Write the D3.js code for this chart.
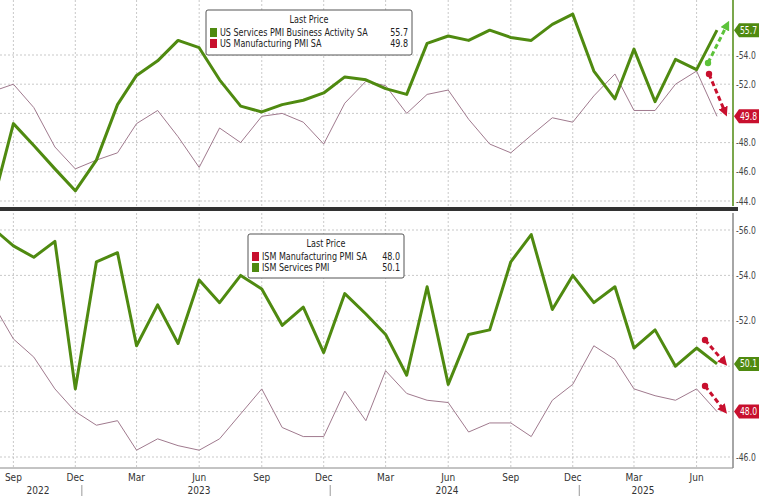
<!DOCTYPE html>
<html><head><meta charset="utf-8">
<script src="https://cdn.jsdelivr.net/npm/d3@7"></script>
<style>
body{margin:0;background:#fff}
text{font-family:"Liberation Sans Narrow","DejaVu Sans Condensed","Liberation Sans",sans-serif}
</style></head>
<body><svg id="c" width="760" height="496"></svg>
<script>
// months Aug 2022 .. Jul 2025
var months = d3.range(36).map(function(i){ return new Date(2022, 7 + i, 1) })
var spServices = [43.7,49.3,47.8,46.2,44.7,46.8,50.6,52.6,53.6,55.0,54.5,52.3,50.5,50.1,50.6,50.9,51.4,52.5,52.3,51.7,51.3,54.8,55.3,55.0,55.7,55.2,55.0,56.1,56.8,52.9,51.0,54.4,50.8,53.7,53.0,55.7]
var spManuf = [51.5,52.0,50.4,47.7,46.2,46.8,47.3,49.3,50.2,48.4,46.3,49.0,48.0,49.8,50.0,49.4,47.9,50.7,52.2,51.9,50.0,51.3,51.6,49.6,47.9,47.3,48.5,49.7,49.4,51.2,52.7,50.2,50.2,52.0,52.9,49.8]
var ismServices = [56.1,55.3,54.8,55.5,49.0,54.6,55.0,50.9,52.7,51.0,53.8,52.8,54.0,53.4,51.8,52.6,50.6,53.2,52.3,51.4,49.6,53.5,49.2,51.4,51.6,54.6,55.8,52.5,54.0,52.8,53.5,50.8,51.6,50.0,50.8,50.1]
var ismManuf = [52.8,51.2,50.4,49.0,48.0,47.4,47.6,46.3,46.8,46.5,46.3,46.8,47.9,49.0,47.3,46.9,46.9,48.9,47.6,49.8,48.8,48.5,48.4,47.1,47.5,47.5,46.9,48.5,49.2,50.9,50.3,49.0,48.7,48.5,49.0,48.0]
var topTicks = [44,46,48,50,52,54]
var botTicks = [46,48,50,52,54,56]

var GREEN = '#4f8a10', PURPLE = '#a07a8e', RED = '#c8102e'
var svg = d3.select('#c')
var x = d3.scaleTime().domain([months[0], months[35]]).range([-7.7, 717])
var xR = 733

var panels = [
  {y0: 0, y1: 206, y: d3.scaleLinear().domain([54, 44]).range([55, 201]), ticks: topTicks,
   series: [{v: spManuf, c: PURPLE, w: 1}, {v: spServices, c: GREEN, w: 3}],
   badges: [{v: 55.7, c: GREEN, t: '55.7'}, {v: 49.8, c: RED, t: '49.8'}], axisColor: GREEN,
   legend: {x: 206, y: 10, w: 206, h: 45, items: [['US Services PMI Business Activity SA', '55.7', GREEN], ['US Manufacturing PMI SA', '49.8', RED]]},
   arrows: [[708, 63, 727, 25, '#5cc23a'], [709, 74, 725, 112, RED]]},
  {y0: 213, y1: 468, y: d3.scaleLinear().domain([56, 46]).range([230, 457]), ticks: botTicks,
   series: [{v: ismManuf, c: PURPLE, w: 1}, {v: ismServices, c: GREEN, w: 3}],
   badges: [{v: 50.1, c: GREEN, t: '50.1'}, {v: 48.0, c: RED, t: '48.0'}], axisColor: '#888',
   legend: {x: 248, y: 234, w: 156, h: 44, items: [['ISM Manufacturing PMI SA', '48.0', RED], ['ISM Services PMI', '50.1', GREEN]]},
   arrows: [[705, 340, 724, 362, RED], [705, 386, 724, 410, RED]]}
]

var defs = svg.append('defs')
;[['ag', '#5cc23a'], ['ar', RED]].forEach(function(m){
  defs.append('marker').attr('id', m[0]).attr('viewBox', '0 0 10 10').attr('refX', 5).attr('refY', 5)
    .attr('markerWidth', 3.2).attr('markerHeight', 3.2).attr('orient', 'auto')
    .append('path').attr('d', 'M0,0L10,5L0,10z').attr('fill', m[1])
})

var quarters = months.filter(function(d){ return d.getMonth() % 3 == 2 })

panels.forEach(function(p){
  var g = svg.append('g')
  g.selectAll('.vg').data(quarters).enter().append('line')
    .attr('x1', function(d){ return x(d) }).attr('x2', function(d){ return x(d) })
    .attr('y1', p.y0).attr('y2', p.y1).attr('stroke', '#bbb').attr('stroke-dasharray', '2,2').attr('stroke-width', 0.8)
  g.selectAll('.hg').data(p.ticks).enter().append('line')
    .attr('x1', 0).attr('x2', xR).attr('y1', p.y).attr('y2', p.y)
    .attr('stroke', '#bbb').attr('stroke-dasharray', '2,2').attr('stroke-width', 0.8)
  g.append('line').attr('x1', xR).attr('x2', xR).attr('y1', p.y0).attr('y2', p.y1).attr('stroke', p.axisColor).attr('stroke-width', 1.5)
  var shown = p.ticks.filter(function(t){
    return p.badges.every(function(b){ return Math.abs(p.y(t) - p.y(b.v)) > 12 })
  })
  g.selectAll('.tk').data(shown).enter().append('text')
    .attr('transform', function(d){ return 'translate(' + (xR + 3) + ',' + (p.y(d) + 3.5) + ')scale(0.85,1)' })
    .attr('font-size', 10).attr('fill', '#444')
    .text(function(d){ return '-' + d.toFixed(1) })
  p.series.forEach(function(s){
    g.append('path').datum(s.v)
      .attr('d', d3.line().x(function(d, i){ return x(months[i]) }).y(function(d){ return p.y(d) }))
      .attr('fill', 'none').attr('stroke', s.c).attr('stroke-width', s.w).attr('stroke-linejoin', 'round')
  })
  p.badges.forEach(function(b){
    var yy = p.y(b.v)
    g.append('path').attr('d', 'M' + (xR + 1) + ',' + yy + 'l5,-7h20v14h-20z').attr('fill', b.c)
    g.append('text').attr('transform', 'translate(' + (xR + 7) + ',' + (yy + 3.5) + ')scale(0.85,1)')
      .attr('font-size', 10).attr('fill', '#fff').text(b.t)
  })
  p.arrows.forEach(function(a){
    g.append('circle').attr('cx', a[0]).attr('cy', a[1]).attr('r', 3.2).attr('fill', a[4])
    g.append('line').attr('x1', a[0]).attr('y1', a[1]).attr('x2', a[2]).attr('y2', a[3])
      .attr('stroke', a[4]).attr('stroke-width', 3).attr('stroke-dasharray', '5,3')
      .attr('marker-end', 'url(#' + (a[4] == RED ? 'ar' : 'ag') + ')')
  })
  var L = p.legend
  var lg = g.append('g').attr('transform', 'translate(' + L.x + ',' + L.y + ')')
  lg.append('rect').attr('width', L.w).attr('height', L.h).attr('fill', '#fff').attr('stroke', '#555').attr('rx', 2)
  lg.append('text').attr('x', L.w / 2).attr('y', 13).attr('text-anchor', 'middle').attr('font-size', 10.5).attr('fill', '#222')
    .attr('transform', 'translate(' + (L.w / 2 * 0.15) + ',0)scale(0.85,1)').text('Last Price')
  L.items.forEach(function(it, i){
    var yy = 26 + i * 11
    lg.append('rect').attr('x', 4).attr('y', yy - 8).attr('width', 7).attr('height', 9).attr('fill', it[2])
    lg.append('text').attr('transform', 'translate(14,' + yy + ')scale(0.85,1)').attr('font-size', 10.5).attr('fill', '#222').text(it[0])
    lg.append('text').attr('transform', 'translate(' + (L.w - 4) + ',' + yy + ')scale(0.85,1)').attr('text-anchor', 'end')
      .attr('font-size', 10.5).attr('fill', '#222').text(it[1])
  })
})

// separator
svg.append('rect').attr('x', 0).attr('y', 207).attr('width', 738).attr('height', 4).attr('fill', '#333')
svg.append('line').attr('x1', 0).attr('x2', xR).attr('y1', 468).attr('y2', 468).attr('stroke', '#888')

// x axis labels
var fmt = d3.timeFormat('%b')
svg.selectAll('.ml').data(quarters).enter().append('text')
  .attr('x', function(d){ return x(d) }).attr('y', 481).attr('text-anchor', 'middle')
  .attr('font-size', 10).attr('fill', '#333').text(function(d){ return fmt(d) })
var years = [['2022', 38], ['2023', 199], ['2024', 447], ['2025', 643]]
svg.selectAll('.yl').data(years).enter().append('text')
  .attr('x', function(d){ return d[1] }).attr('y', 494).attr('text-anchor', 'middle')
  .attr('font-size', 10).attr('fill', '#333').text(function(d){ return d[0] })
svg.selectAll('.ys').data([new Date(2022, 11, 15), new Date(2023, 11, 15), new Date(2024, 11, 15)]).enter().append('line')
  .attr('x1', function(d){ return x(d) - 3 }).attr('x2', function(d){ return x(d) - 3 })
  .attr('y1', 485).attr('y2', 496).attr('stroke', '#999')
</script></body></html>
